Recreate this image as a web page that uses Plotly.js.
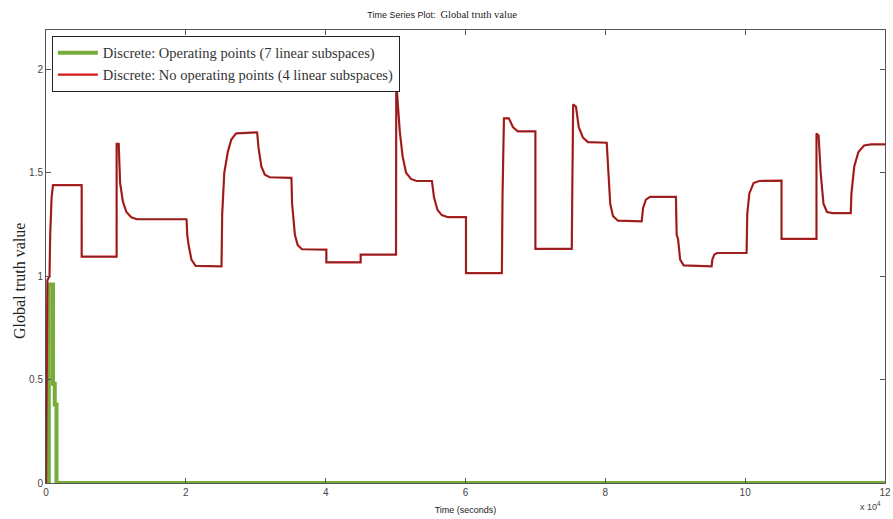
<!DOCTYPE html>
<html>
<head>
<meta charset="utf-8">
<script src="https://cdn.plot.ly/plotly-3.0.1.min.js"></script>
<style>html,body{margin:0;padding:0;background:#fff;}#chart{width:893px;height:519px;}</style>
</head>
<body>
<div id="chart"></div>
<script>
// Time in units of 10^4 seconds
const greenName = 'Discrete: Operating points (7 linear subspaces)';
const greenTime = [0, 0.04, 0.04, 0.10, 0.10, 0.125, 0.125, 0.15, 0.15, 12];
const greenValue = [0, 0, 0.96, 0.96, 0.48, 0.48, 0.38, 0.38, 0, 0];

const redName = 'Discrete: No operating points (4 linear subspaces)';
const redTime = [
  0, 0.01, 0.02, 0.05, 0.06, 0.08, 0.10, 0.51,
  0.51, 1.01,
  1.01, 1.04, 1.06, 1.10, 1.15, 1.22, 1.30, 2.01,
  2.02, 2.04, 2.08, 2.14, 2.51,
  2.52, 2.55, 2.60, 2.65, 2.72, 3.02,
  3.04, 3.08, 3.13, 3.20, 3.51,
  3.52, 3.56, 3.60, 3.66, 4.01,
  4.01, 4.50, 4.50, 5.006,
  5.01, 5.03, 5.06, 5.10, 5.15, 5.22, 5.30, 5.52,
  5.55, 5.60, 5.66, 5.75, 6.007,
  6.007, 6.52,
  6.53, 6.55, 6.62, 6.68, 6.75, 7.00,
  7.00, 7.52,
  7.53, 7.54, 7.58, 7.62, 7.68, 7.75, 8.02,
  8.04, 8.07, 8.11, 8.18, 8.52,
  8.54, 8.58, 8.64, 9.01,
  9.02, 9.04, 9.07, 9.12, 9.52,
  9.53, 9.56, 9.60, 10.02,
  10.03, 10.06, 10.12, 10.20, 10.52,
  10.52, 11.02,
  11.02, 11.05, 11.08, 11.12, 11.17, 11.25, 11.51,
  11.52, 11.56, 11.62, 11.70, 11.80, 12
];
const redValue = [
  0, 0.72, 0.98, 1.0, 1.2, 1.38, 1.44, 1.44,
  1.094, 1.094,
  1.64, 1.64, 1.45, 1.36, 1.31, 1.285, 1.275, 1.275,
  1.2, 1.15, 1.08, 1.05, 1.047,
  1.3, 1.5, 1.6, 1.66, 1.69, 1.695,
  1.62, 1.53, 1.49, 1.478, 1.475,
  1.35, 1.2, 1.15, 1.13, 1.128,
  1.067, 1.067, 1.104, 1.104,
  1.94, 1.85, 1.70, 1.58, 1.50, 1.47, 1.46, 1.46,
  1.38, 1.32, 1.295, 1.285, 1.285,
  1.015, 1.015,
  1.40, 1.763, 1.763, 1.72, 1.70, 1.70,
  1.132, 1.132,
  1.50, 1.83, 1.82, 1.72, 1.67, 1.648, 1.645,
  1.50, 1.35, 1.29, 1.268, 1.265,
  1.33, 1.37, 1.383, 1.383,
  1.20, 1.18, 1.08, 1.052, 1.047,
  1.08, 1.105, 1.112, 1.112,
  1.30, 1.40, 1.45, 1.46, 1.462,
  1.18, 1.18,
  1.69, 1.68, 1.50, 1.35, 1.31, 1.305, 1.305,
  1.40, 1.53, 1.60, 1.632, 1.637, 1.637
];

const xTicks = [0, 2, 4, 6, 8, 10, 12];
const yTicks = [0, 0.5, 1, 1.5, 2];
const yTickText = ['0', '0.5', '1', '1.5', '2'];

const traces = [
  {x: greenTime, y: greenValue, type: 'scatter', mode: 'lines', name: greenName,
   line: {color: '#77ab3a', width: 4}},
  {x: redTime, y: redValue, type: 'scatter', mode: 'lines', name: redName,
   line: {color: '#d41a1a', width: 2.2}},
  {x: redTime, y: redValue, type: 'scatter', mode: 'lines', name: redName, showlegend: false,
   hoverinfo: 'skip', line: {color: '#5a2a2a', width: 0.9}}
];

const axisCommon = {
  showgrid: false, zeroline: false, showline: true, linecolor: '#555', linewidth: 1,
  mirror: 'ticks', ticks: 'inside', ticklen: 5, tickcolor: '#555',
  tickfont: {family: 'Liberation Sans, Arial, sans-serif', size: 10, color: '#444'}
};

const layout = {
  width: 893, height: 519,
  margin: {l: 46, r: 8, t: 30, b: 36},
  paper_bgcolor: '#fff', plot_bgcolor: '#fff',
  title: {
    text: 'Time Series Plot:  <span style="font-family:Liberation Serif, Times New Roman, serif;font-size:10.5px">Global truth value</span>',
    font: {family: 'Liberation Sans, Arial, sans-serif', size: 9, color: '#222'},
    x: 0.495, xanchor: 'center', y: 0.972, yanchor: 'middle'
  },
  xaxis: Object.assign({}, axisCommon, {
    range: [0, 12], tickvals: xTicks, ticktext: xTicks.map(String),
    title: {text: 'Time (seconds)', font: {family: 'Liberation Sans, Arial, sans-serif', size: 9, color: '#222'}, standoff: 9}
  }),
  yaxis: Object.assign({}, axisCommon, {
    range: [0, 2.19], tickvals: yTicks, ticktext: yTickText
  }),
  showlegend: true,
  legend: {
    x: 0.007, y: 0.987, xanchor: 'left', yanchor: 'top',
    bgcolor: '#fff', bordercolor: '#222', borderwidth: 1,
    font: {family: 'Liberation Serif, Times New Roman, serif', size: 14.5, color: '#333'},
    tracegroupgap: 0, itemwidth: 40
  },
  annotations: [
    {
      text: 'x 10<sup>4</sup>', xref: 'paper', yref: 'paper', x: 0.998, y: -0.05,
      xanchor: 'right', yanchor: 'middle', showarrow: false,
      font: {family: 'Liberation Sans, Arial, sans-serif', size: 9, color: '#444'}
    },
    {
      text: 'Global truth value', xref: 'paper', yref: 'paper', x: -0.031, y: 0.446,
      xanchor: 'center', yanchor: 'middle', textangle: -90, showarrow: false,
      font: {family: 'Liberation Serif, Times New Roman, serif', size: 16, color: '#222'}
    }
  ]
};

Plotly.newPlot('chart', traces, layout, {displayModeBar: false, staticPlot: true});
</script>
</body>
</html>
